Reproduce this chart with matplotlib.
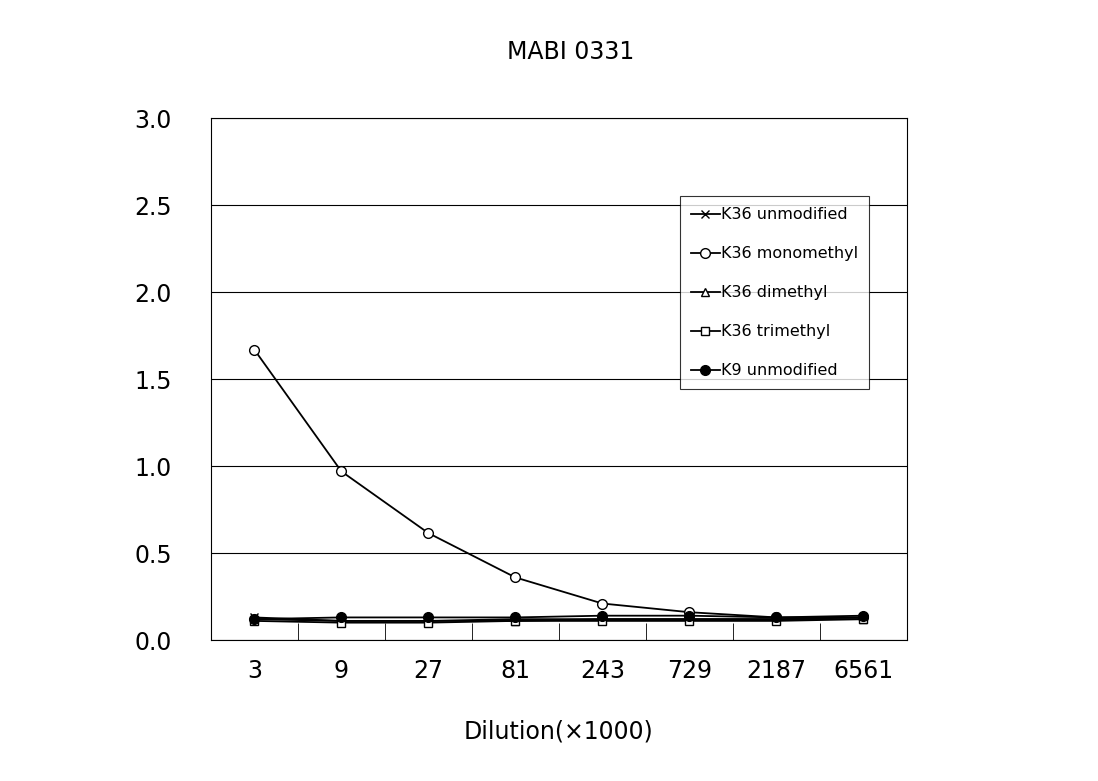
import matplotlib
matplotlib.use('Agg')
import matplotlib.pyplot as plt

# data
dilutions = ['3', '9', '27', '81', '243', '729', '2187', '6561']
k36_unmod = [0.13, 0.11, 0.11, 0.12, 0.12, 0.12, 0.12, 0.13]
k36_mono = [1.67, 0.97, 0.615, 0.36, 0.21, 0.16, 0.13, 0.13]
k36_di = [0.12, 0.11, 0.11, 0.11, 0.12, 0.12, 0.12, 0.12]
k36_tri = [0.11, 0.10, 0.10, 0.11, 0.11, 0.11, 0.11, 0.12]
k9_unmod = [0.12, 0.13, 0.13, 0.13, 0.14, 0.14, 0.13, 0.14]

fig = plt.figure(figsize=(10.98, 7.81), dpi=100)
ax = fig.add_axes([0.192, 0.1805, 0.634, 0.668])
x = range(len(dilutions))

ax.plot(x, k36_unmod, color='black', marker='x', ms=6, lw=1.3, label='K36 unmodified')
ax.plot(x, k36_mono, color='black', marker='o', mfc='white', ms=7, lw=1.3, label='K36 monomethyl')
ax.plot(x, k36_di, color='black', marker='^', mfc='white', ms=6, lw=1.3, label='K36 dimethyl')
ax.plot(x, k36_tri, color='black', marker='s', mfc='white', ms=6, lw=1.3, label='K36 trimethyl')
ax.plot(x, k9_unmod, color='black', marker='o', ms=7, lw=1.3, label='K9 unmodified')

ax.set_xlim(-0.5, len(dilutions) - 0.5)
ax.set_ylim(0, 3.0)
ax.set_yticks([0, 0.5, 1.0, 1.5, 2.0, 2.5, 3.0])
ax.set_yticklabels(['0.0', '0.5', '1.0', '1.5', '2.0', '2.5', '3.0'], fontsize=17)
ax.yaxis.grid(True, color='black', lw=0.8)
ax.set_axisbelow(True)
ax.tick_params(axis='y', length=0, pad=28)

ax.set_xticks(list(x))
ax.set_xticklabels(dilutions, fontsize=17)
ax.set_xticks([i + 0.5 for i in range(len(dilutions) - 1)], minor=True)
ax.tick_params(axis='x', which='major', length=0, pad=14)
ax.tick_params(axis='x', which='minor', direction='in', length=12)

ax.set_xlabel('Dilution(\u00d71000)', fontsize=17, labelpad=26)
fig.text(0.52, 0.925, 'MABI 0331', ha='center', fontsize=17)

leg = ax.legend(loc='upper left', bbox_to_anchor=(0.662, 0.866), fontsize=11.5,
                frameon=True, fancybox=False, edgecolor='black', labelspacing=1.5,
                handlelength=1.8, handletextpad=0.1, borderpad=0.7)
leg.get_frame().set_linewidth(0.8)

fig.savefig('out.png', dpi=100)
